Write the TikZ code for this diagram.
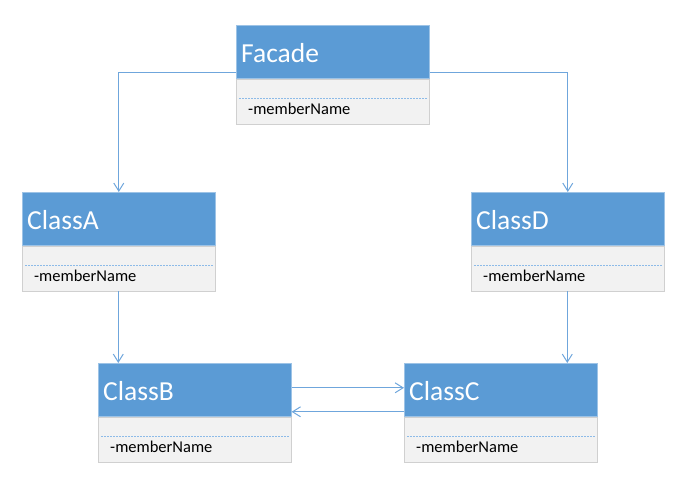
\documentclass[tikz,border=0pt]{standalone}
\usepackage{fontspec}
\setmainfont{Carlito}
\usetikzlibrary{arrows.meta}
\definecolor{hdrblue}{HTML}{5B9BD5}
\definecolor{hdrline}{HTML}{9DC3E6}
\definecolor{bodyfill}{HTML}{F2F2F2}
\definecolor{bodyline}{HTML}{D0D0D0}
\definecolor{conn}{HTML}{6FA6DC}
\definecolor{dotblue}{HTML}{8DBBE8}
\tikzset{
  hdr/.style={draw=hdrline, fill=hdrblue, minimum width=193pt, minimum height=53pt, inner sep=0pt, line width=0.6pt},
  bod/.style={draw=bodyline, fill=bodyfill, minimum width=193pt, minimum height=45pt, inner sep=0pt, line width=0.6pt},
  txtT/.style={text=white, inner sep=0pt, font=\fontsize{27.5pt}{30pt}\selectfont},
  txtM/.style={text=black, inner sep=0pt, font=\fontsize{16.5pt}{19pt}\selectfont},
  dotline/.style={draw=dotblue, line width=1pt, dash pattern=on 2pt off 1pt},
  conline/.style={draw=conn, line width=1.2pt, -{Straight Barb[length=8pt,width=10pt,line width=1pt]}}
}
\newcommand{\umlclass}[4]{%
  \node[hdr, anchor=north west] (#1) at (#2,#3) {};
  \node[txtT, anchor=west] (#1t) at ([xshift=5pt,yshift=-1pt]#1.west) {#4};
  \node[bod, anchor=north] (#1b) at (#1.south) {};
  \draw[dotline] ([xshift=3pt,yshift=-19.5pt]#1b.north west) -- ([xshift=-3pt,yshift=-19.5pt]#1b.north east);
  \node[txtM, anchor=west] (#1m) at ([xshift=12pt,yshift=-30pt]#1b.north west) {-memberName};
}
\begin{document}
\begin{tikzpicture}[x=1pt,y=-1pt]
\useasboundingbox (0,0) rectangle (698,502);
\umlclass{facade}{236}{25}{Facade}
\umlclass{classA}{22}{192}{ClassA}
\umlclass{classD}{471}{192}{ClassD}
\umlclass{classB}{98}{363}{ClassB}
\umlclass{classC}{404}{363}{ClassC}
\draw[conline] ([yshift=-20.5pt]facade.west) -| (classA.north);
\draw[conline] ([yshift=-20.5pt]facade.east) -| (classD.north);
\draw[conline] ([xshift=-0.5pt]classAb.south) -- ([xshift=-0.5pt]classAb.south |- classB.north);
\draw[conline] ([xshift=-0.5pt]classDb.south) -- ([xshift=-0.5pt]classDb.south |- classC.north);
\draw[conline] ([yshift=2pt]classB.east) -- ([yshift=2pt]classC.west);
\draw[conline] ([yshift=-22pt]classC.west) -- ([yshift=-22pt]classB.east);
\end{tikzpicture}
\end{document}
